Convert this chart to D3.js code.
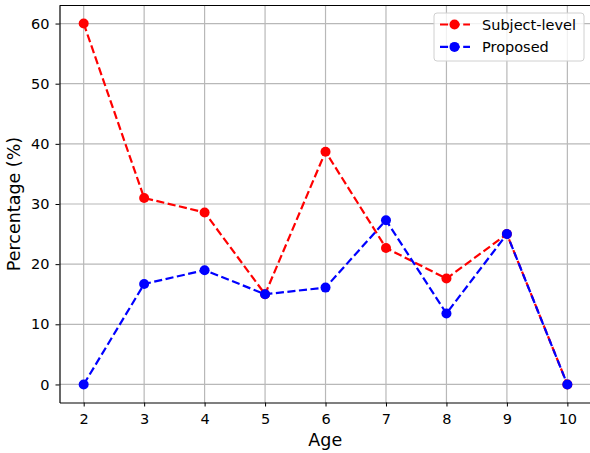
<!DOCTYPE html>
<html>
<head>
<meta charset="utf-8">
<script src="https://cdn.jsdelivr.net/npm/d3@7"></script>
<style>
    body { margin: 0; background: #fff; }
    svg { font-family: "DejaVu Sans", sans-serif; }
</style>
</head>
<body>
<script>
const w = 590; // width
const h = 453; // height

// data
const ages = [2, 3, 4, 5, 6, 7, 8, 9, 10];
const subjectLevel = [60.0, 31.0, 28.6, 15.0, 38.7, 22.7, 17.6, 25.0, 0.0];
const proposed = [0.0, 16.7, 19.0, 15.0, 16.1, 27.3, 11.8, 25.0, 0.0];
const xTicks = [2, 3, 4, 5, 6, 7, 8, 9, 10];
const yTicks = [0, 10, 20, 30, 40, 50, 60];

const series = [
    { name: "Subject-level", color: "red", values: subjectLevel },
    { name: "Proposed", color: "blue", values: proposed }
];

let svg = d3.select("body")
    .append("svg")
    .attr("width", w)
    .attr("height", h);

// plot area
const pLeft = 59.5, pTop = 5.5, pBottom = 402.5;
let x = d3.scaleLinear()
    .domain([1.6, 10.4])
    .range([pLeft, pLeft + 8.8 * 60.46]);
let y = d3.scaleLinear()
    .domain([-3, 63])
    .range([pBottom, pTop]);

// grid
let grid = svg.append("g").attr("stroke", "#b8b8b8").attr("stroke-width", 1.2);
grid.selectAll(".gx")
    .data(xTicks)
    .enter()
    .append("line")
    .attr("x1", d => x(d))
    .attr("x2", d => x(d))
    .attr("y1", pTop)
    .attr("y2", pBottom);
grid.selectAll(".gy")
    .data(yTicks)
    .enter()
    .append("line")
    .attr("y1", d => y(d))
    .attr("y2", d => y(d))
    .attr("x1", pLeft)
    .attr("x2", w);

// axes
let axisX = d3.axisBottom(x).tickValues(xTicks).tickSize(4).tickPadding(7).tickSizeOuter(0);
let gX = svg.append("g")
    .attr("transform", `translate(0,${pBottom})`)
    .call(axisX);
let axisY = d3.axisLeft(y).tickValues(yTicks).tickSize(4).tickPadding(6).tickSizeOuter(0);
let gY = svg.append("g")
    .attr("transform", `translate(${pLeft},0)`)
    .call(axisY);
[gX, gY].forEach(g => {
    g.selectAll("text").attr("font-size", "14.5px").attr("fill", "#000").attr("font-family", "DejaVu Sans");
    g.selectAll("line").attr("stroke", "#000");
    g.select(".domain").attr("stroke", "#000").attr("stroke-width", 1.2);
});

// top spine
svg.append("line")
    .attr("x1", pLeft).attr("x2", w)
    .attr("y1", pTop).attr("y2", pTop)
    .attr("stroke", "#000").attr("stroke-width", 1.2);

// lines and markers
let line = d3.line()
    .x((d, i) => x(ages[i]))
    .y(d => y(d));

series.forEach(s => {
    svg.append("path")
        .datum(s.values)
        .attr("d", line)
        .attr("fill", "none")
        .attr("stroke", s.color)
        .attr("stroke-width", 2.2)
        .attr("stroke-dasharray", "8.1,3.5");
    svg.append("g")
        .selectAll("circle")
        .data(s.values)
        .enter()
        .append("circle")
        .attr("cx", (d, i) => x(ages[i]))
        .attr("cy", d => y(d))
        .attr("r", 5)
        .attr("fill", s.color);
});

// axis labels
svg.append("text")
    .attr("text-anchor", "middle")
    .attr("x", (pLeft + 591) / 2)
    .attr("y", 446)
    .attr("font-size", "17.5px")
    .attr("fill", "#000")
    .text("Age");

svg.append("text")
    .attr("text-anchor", "middle")
    .attr("transform", "rotate(-90)")
    .attr("x", -(pTop + pBottom) / 2)
    .attr("y", 19.5)
    .attr("font-size", "17.5px")
    .attr("fill", "#000")
    .text("Percentage (%)");

// legend
let legend = svg.append("g").attr("transform", "translate(434,13)");
legend.append("rect")
    .attr("width", 150)
    .attr("height", 48)
    .attr("rx", 3)
    .attr("fill", "white")
    .attr("fill-opacity", 0.8)
    .attr("stroke", "#d0d0d0");
series.forEach((s, i) => {
    let row = legend.append("g").attr("transform", `translate(0,${11.5 + i * 22.4})`);
    row.append("line")
        .attr("x1", 6).attr("x2", 36)
        .attr("stroke", s.color)
        .attr("stroke-width", 2.2)
        .attr("stroke-dasharray", "8.1,3.5");
    row.append("circle")
        .attr("cx", 20.5)
        .attr("r", 5)
        .attr("fill", s.color);
    row.append("text")
        .attr("x", 48)
        .attr("dy", "0.35em")
        .attr("font-size", "14.5px")
        .attr("fill", "#000")
        .text(s.name);
});
</script>
</body>
</html>
